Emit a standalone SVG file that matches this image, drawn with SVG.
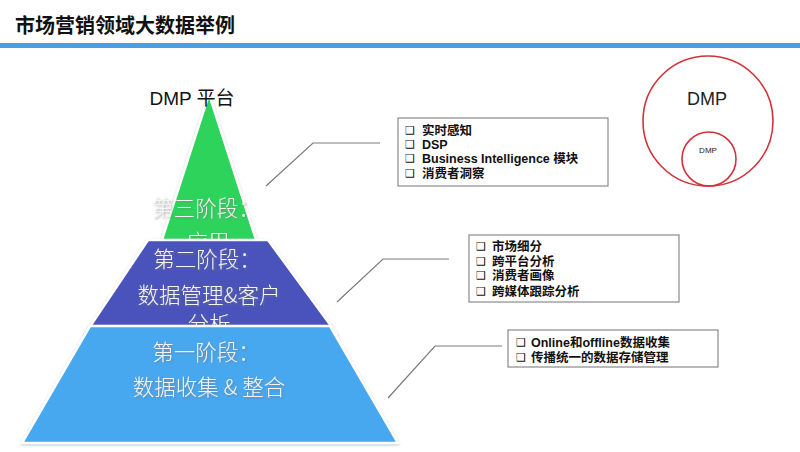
<svg xmlns="http://www.w3.org/2000/svg" width="800" height="452" viewBox="0 0 800 452">
<defs>
<filter id="sh" x="-20%" y="-20%" width="140%" height="140%">
<feDropShadow dx="1" dy="1" stdDeviation="0.8" flood-color="#777" flood-opacity="0.7"/>
</filter>
<filter id="psh" x="-10%" y="-10%" width="120%" height="120%">
<feDropShadow dx="0" dy="1" stdDeviation="1.2" flood-color="#999" flood-opacity="0.6"/>
</filter>
<clipPath id="cut3"><rect x="100" y="220" width="220" height="21"/></clipPath>
</defs>
<style>
.title{font-family:"Noto Sans CJK SC","Liberation Sans",sans-serif;font-weight:bold;font-size:20px;fill:#111}
.stage{font-family:"Noto Sans CJK SC","Liberation Sans",sans-serif;font-weight:300;font-size:21.5px;fill:#f4f4f4;text-anchor:middle}
.lbl{font-family:"Liberation Sans","Noto Sans CJK SC",sans-serif;font-size:19px;fill:#111}
.item{font-family:"Liberation Sans","Noto Sans CJK SC",sans-serif;font-weight:bold;font-size:12.5px;fill:#111}
.bul{font-family:"DejaVu Sans",sans-serif;font-size:11px;fill:#111}
.box{fill:#fff;stroke:#8a8a8a;stroke-width:1.2}
.conn{fill:none;stroke:#7a7a7a;stroke-width:1.2}
.circ{fill:none;stroke:#d0343a;stroke-width:1.6}
.tier{stroke:#fff;stroke-width:2.5;stroke-linejoin:round}
</style>
<rect width="800" height="452" fill="#fff"/>
<text class="title" x="15" y="33">市场营销领域大数据举例</text>
<rect x="0" y="43" width="800" height="5" fill="#4a9fe2"/>

<g id="tier3">
<polygon class="tier" points="209,94 260,252 158,252" fill="#2fd35c" filter="url(#psh)"/>
<text class="stage" x="206" y="216" filter="url(#sh)">第三阶段：</text>
<g clip-path="url(#cut3)"><text class="stage" x="208" y="250" filter="url(#sh)">应用</text></g>
</g>
<g id="tier2">
<polygon class="tier" points="148,240 268,240 337,334 85,334" fill="#4a52bb" filter="url(#psh)"/>
<text class="stage" x="207" y="267" filter="url(#sh)">第二阶段：</text>
<text class="stage" x="209" y="303" filter="url(#sh)">数据管理&amp;客户</text>
<text class="stage" x="209" y="332" filter="url(#sh)">分析</text>
</g>
<g id="tier1">
<polygon class="tier" points="90,326 330,326 398,443 22,443" fill="#47a7ef" filter="url(#psh)"/>
<text class="stage" x="206" y="360" filter="url(#sh)">第一阶段：</text>
<text class="stage" x="209" y="395" filter="url(#sh)">数据收集 &amp; 整合</text>
</g>
<g id="platform-label">
<text class="lbl" x="192" y="105" text-anchor="middle">DMP 平台</text>
</g>

<g id="connectors">
<polyline class="conn" points="266,186 313,143 380,143"/>
<polyline class="conn" points="337,302 383,259 449,259"/>
<polyline class="conn" points="388,398 435,346 502,346"/>
</g>

<g id="box3">
<rect class="box" x="398" y="118" width="210" height="68"/>
<text class="bul" x="405" y="134">❑</text><text class="item" x="422" y="135">实时感知</text>
<text class="bul" x="405" y="148">❑</text><text class="item" x="422" y="149">DSP</text>
<text class="bul" x="405" y="162">❑</text><text class="item" x="422" y="163">Business Intelligence 模块</text>
<text class="bul" x="405" y="177">❑</text><text class="item" x="422" y="178">消费者洞察</text>
</g>
<g id="box2">
<rect class="box" x="469" y="235" width="210" height="67"/>
<text class="bul" x="476" y="250">❑</text><text class="item" x="492" y="251">市场细分</text>
<text class="bul" x="476" y="265">❑</text><text class="item" x="492" y="266">跨平台分析</text>
<text class="bul" x="476" y="279">❑</text><text class="item" x="492" y="280">消费者画像</text>
<text class="bul" x="476" y="295">❑</text><text class="item" x="492" y="296">跨媒体跟踪分析</text>
</g>
<g id="box1">
<rect class="box" x="508" y="330" width="210" height="37"/>
<text class="bul" x="516" y="346">❑</text><text class="item" x="531" y="347">Online和offline数据收集</text>
<text class="bul" x="516" y="361">❑</text><text class="item" x="531" y="362">传播统一的数据存储管理</text>
</g>

<g id="dmp-outer">
<circle class="circ" cx="708" cy="121" r="65"/>
<text x="707" y="105" text-anchor="middle" font-family="Liberation Sans, sans-serif" font-size="18" fill="#222">DMP</text>
</g>
<g id="dmp-inner">
<circle class="circ" cx="709" cy="159" r="27"/>
<text x="708" y="153" text-anchor="middle" font-family="Liberation Sans, sans-serif" font-size="8" fill="#222">DMP</text>
</g>
</svg>
